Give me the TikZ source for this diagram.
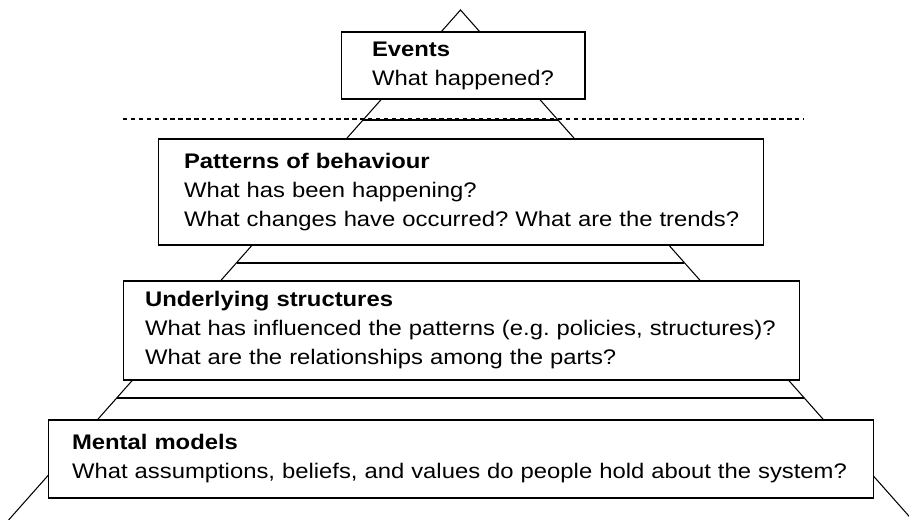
\documentclass[tikz,border=0pt]{standalone}
\usepackage{fontspec}
\setmainfont[FakeStretch=1.13]{Liberation Sans}
\usepackage{tikz}

\begin{document}
\begin{tikzpicture}[x=0.02cm, y=-0.02cm, line width=0.6pt,
    level/.style={draw, fill=white, align=left, inner ysep=0pt,
        font=\fontsize{12}{16.5}\selectfont\frenchspacing}]
    \useasboundingbox (0,0) rectangle (909,520);

    % Pyramid outline
    \coordinate (apex) at (460.5,10);
    \coordinate (baseL) at (8.6,520);
    \coordinate (baseR) at (912.4,520);
    \draw (baseL) -- (apex) -- (baseR);

    % Line between what we see and what lies below
    \draw[dash pattern=on 2.5pt off 2pt] (123,119) -- (804,119);

    % Layer separators
    \draw (363.1,120) -- (557.9,120);
    \draw (236.6,263) -- (684.4,263);
    \draw (117.1,398) -- (803.9,398);

    % Levels, top to bottom
    \node[level, minimum width=4.88cm, minimum height=1.34cm,
        inner xsep=0.62cm, text width=3.64cm] (events) at (463,65.5)
        {\textbf{Events}\\What happened?};
    \node[level, minimum width=12.12cm, minimum height=2.12cm,
        inner xsep=0.52cm, text width=11.08cm] (patterns) at (461,192)
        {\textbf{Patterns of behaviour}\\What has been happening?\\\mbox{What changes have occurred? What are the trends?}};
    \node[level, minimum width=13.54cm, minimum height=1.98cm,
        inner xsep=0.44cm, text width=12.66cm] (structures) at (461.5,330.5)
        {\textbf{Underlying structures}\\\mbox{What has influenced the patterns (e.g. policies, structures)?}\\What are the relationships among the parts?};
    \node[level, minimum width=16.52cm, minimum height=1.56cm,
        inner xsep=0.48cm, text width=15.56cm] (models) at (461,459)
        {\textbf{Mental models}\\\mbox{What assumptions, beliefs, and values do people hold about the system?}};
\end{tikzpicture}
\end{document}
